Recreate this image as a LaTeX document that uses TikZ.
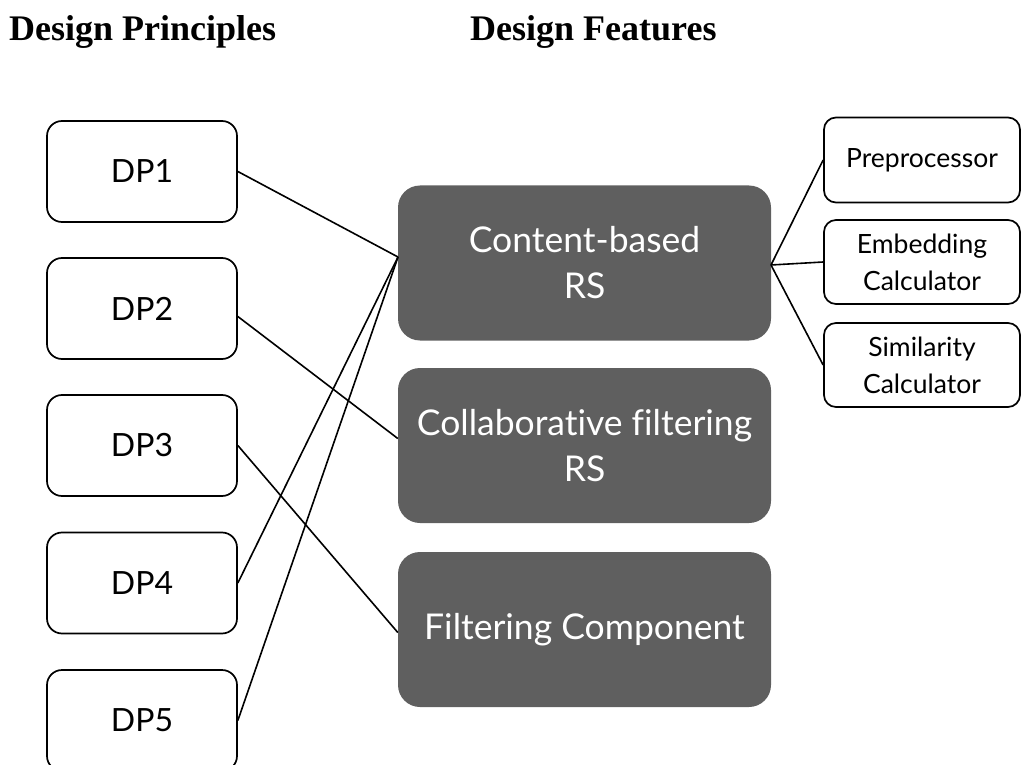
\documentclass[tikz,border=0pt]{standalone}
\usepackage{fontspec}
\setmainfont{Lato}[Ligatures=NoCommon]
\newfontfamily\headfont{Liberation Serif}
\usetikzlibrary{positioning}
\definecolor{darkbox}{HTML}{5F5F5F}
\begin{document}
\begin{tikzpicture}[x=1pt,y=-1pt,
  dpbox/.style={draw=black, line width=1.7pt, rounded corners=15pt, fill=white,
    minimum width=190pt, minimum height=101pt, inner sep=0pt,
    font=\fontsize{32}{38}\selectfont},
  featbox/.style={fill=darkbox, draw=none, rounded corners=22pt,
    minimum width=373pt, minimum height=155pt, inner sep=0pt, align=center,
    text=white, font=\fontsize{35.5}{46}\selectfont},
  subbox/.style={draw=black, line width=1.7pt, rounded corners=12pt, fill=white,
    minimum width=196pt, minimum height=85pt, inner sep=0pt, align=center,
    font=\fontsize{26.5}{37}\selectfont},
  head/.style={anchor=base west, inner sep=0pt, font=\headfont\bfseries\fontsize{36}{40}\selectfont},
  conn/.style={line width=1.6pt, draw=black}]
\useasboundingbox (0,0) rectangle (1021,765);
% headers
\node[head] (hp) at (9,41) {Design Principles};
\node[head] (hf) at (470,41) {Design Features};
\coordinate (cbin) at (398,257);
\coordinate (cbout) at (771,265);
% DP boxes
\node[dpbox] (dp1) at (142,171.5) {DP1};
\node[dpbox] (dp2) at (142,308.5) {DP2};
\node[dpbox] (dp3) at (142,445.5) {DP3};
\node[dpbox] (dp4) at (142,583) {DP4};
\node[dpbox] (dp5) at (142,720.5) {DP5};
% feature boxes
\node[featbox] (cb) at (584.5,263) {Content-based\\RS};
\node[featbox] (cf) at (584.5,445.5) {Collaborative filtering\\RS};
\node[featbox] (fc) at (584.5,629.5) {Filtering Component};
% sub boxes
\node[subbox] (pre) at (922,160) {Preprocessor};
\node[subbox, minimum height=84pt] (emb) at (922,262) {Embedding\\Calculator};
\node[subbox, minimum height=84pt] (sim) at (922,365) {Similarity\\Calculator};
% connectors
\draw[conn] (dp1.east) -- (cbin);
\draw[conn] (dp4.east) -- (cbin);
\draw[conn] (dp5.east) -- (cbin);
\draw[conn] ([yshift=-8pt]dp2.east) -- ([yshift=7pt]cf.west);
\draw[conn] (dp3.east) -- ([yshift=-3pt]fc.west);
\draw[conn] (cbout) -- (pre.west);
\draw[conn] (cbout) -- (emb.west);
\draw[conn] (cbout) -- (sim.west);
\end{tikzpicture}
\end{document}
